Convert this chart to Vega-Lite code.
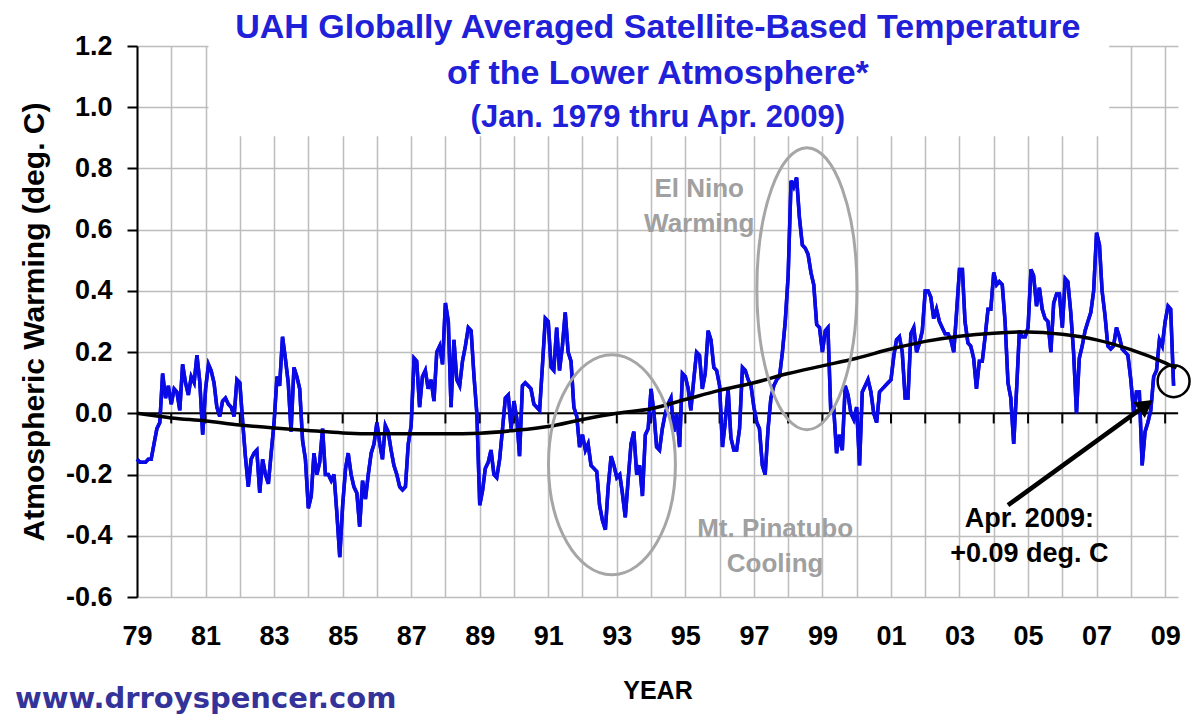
{
  "$schema": "https://vega.github.io/schema/vega-lite/v6.json",
  "width": 1041,
  "height": 551,
  "autosize": {"type": "none"},
  "padding": {"left": 137, "top": 46, "right": 15, "bottom": 122},
  "background": "white",
  "config": {"view": {"stroke": null}, "font": "Liberation Sans"},
  "datasets": {
    "uah": [
      {"d":"1979-01-01","v":-0.15},{"d":"1979-02-01","v":-0.16},{"d":"1979-03-01","v":-0.16},{"d":"1979-04-01","v":-0.16},{"d":"1979-05-01","v":-0.15},{"d":"1979-06-01","v":-0.15},{"d":"1979-07-01","v":-0.10},{"d":"1979-08-01","v":-0.05},{"d":"1979-09-01","v":-0.03},{"d":"1979-10-01","v":0.13},{"d":"1979-11-01","v":0.05},{"d":"1979-12-01","v":0.09},
      {"d":"1980-01-01","v":0.03},{"d":"1980-02-01","v":0.08},{"d":"1980-03-01","v":0.07},{"d":"1980-04-01","v":0.01},{"d":"1980-05-01","v":0.16},{"d":"1980-06-01","v":0.10},{"d":"1980-07-01","v":0.06},{"d":"1980-08-01","v":0.12},{"d":"1980-09-01","v":0.10},{"d":"1980-10-01","v":0.19},{"d":"1980-11-01","v":0.10},{"d":"1980-12-01","v":-0.07},
      {"d":"1981-01-01","v":0.08},{"d":"1981-02-01","v":0.16},{"d":"1981-03-01","v":0.14},{"d":"1981-04-01","v":0.10},{"d":"1981-05-01","v":0.02},{"d":"1981-06-01","v":-0.01},{"d":"1981-07-01","v":0.04},{"d":"1981-08-01","v":0.05},{"d":"1981-09-01","v":0.03},{"d":"1981-10-01","v":0.02},{"d":"1981-11-01","v":-0.01},{"d":"1981-12-01","v":0.11},
      {"d":"1982-01-01","v":0.10},{"d":"1982-02-01","v":-0.03},{"d":"1982-03-01","v":-0.14},{"d":"1982-04-01","v":-0.24},{"d":"1982-05-01","v":-0.15},{"d":"1982-06-01","v":-0.13},{"d":"1982-07-01","v":-0.12},{"d":"1982-08-01","v":-0.26},{"d":"1982-09-01","v":-0.15},{"d":"1982-10-01","v":-0.20},{"d":"1982-11-01","v":-0.23},{"d":"1982-12-01","v":-0.13},
      {"d":"1983-01-01","v":-0.03},{"d":"1983-02-01","v":0.12},{"d":"1983-03-01","v":0.09},{"d":"1983-04-01","v":0.25},{"d":"1983-05-01","v":0.18},{"d":"1983-06-01","v":0.10},{"d":"1983-07-01","v":-0.06},{"d":"1983-08-01","v":0.15},{"d":"1983-09-01","v":0.12},{"d":"1983-10-01","v":0.08},{"d":"1983-11-01","v":-0.09},{"d":"1983-12-01","v":-0.15},
      {"d":"1984-01-01","v":-0.31},{"d":"1984-02-01","v":-0.27},{"d":"1984-03-01","v":-0.13},{"d":"1984-04-01","v":-0.20},{"d":"1984-05-01","v":-0.16},{"d":"1984-06-01","v":-0.05},{"d":"1984-07-01","v":-0.20},{"d":"1984-08-01","v":-0.20},{"d":"1984-09-01","v":-0.22},{"d":"1984-10-01","v":-0.20},{"d":"1984-11-01","v":-0.33},{"d":"1984-12-01","v":-0.47},
      {"d":"1985-01-01","v":-0.30},{"d":"1985-02-01","v":-0.18},{"d":"1985-03-01","v":-0.13},{"d":"1985-04-01","v":-0.20},{"d":"1985-05-01","v":-0.24},{"d":"1985-06-01","v":-0.26},{"d":"1985-07-01","v":-0.37},{"d":"1985-08-01","v":-0.22},{"d":"1985-09-01","v":-0.28},{"d":"1985-10-01","v":-0.20},{"d":"1985-11-01","v":-0.13},{"d":"1985-12-01","v":-0.10},
      {"d":"1986-01-01","v":-0.03},{"d":"1986-02-01","v":-0.10},{"d":"1986-03-01","v":-0.15},{"d":"1986-04-01","v":-0.04},{"d":"1986-05-01","v":-0.06},{"d":"1986-06-01","v":-0.12},{"d":"1986-07-01","v":-0.17},{"d":"1986-08-01","v":-0.20},{"d":"1986-09-01","v":-0.24},{"d":"1986-10-01","v":-0.25},{"d":"1986-11-01","v":-0.24},{"d":"1986-12-01","v":-0.10},
      {"d":"1987-01-01","v":-0.04},{"d":"1987-02-01","v":0.18},{"d":"1987-03-01","v":0.17},{"d":"1987-04-01","v":0.02},{"d":"1987-05-01","v":0.12},{"d":"1987-06-01","v":0.14},{"d":"1987-07-01","v":0.08},{"d":"1987-08-01","v":0.11},{"d":"1987-09-01","v":0.04},{"d":"1987-10-01","v":0.20},{"d":"1987-11-01","v":0.22},{"d":"1987-12-01","v":0.16},
      {"d":"1988-01-01","v":0.36},{"d":"1988-02-01","v":0.30},{"d":"1988-03-01","v":0.02},{"d":"1988-04-01","v":0.24},{"d":"1988-05-01","v":0.11},{"d":"1988-06-01","v":0.09},{"d":"1988-07-01","v":0.17},{"d":"1988-08-01","v":0.22},{"d":"1988-09-01","v":0.28},{"d":"1988-10-01","v":0.27},{"d":"1988-11-01","v":0.12},{"d":"1988-12-01","v":0.00},
      {"d":"1989-01-01","v":-0.30},{"d":"1989-02-01","v":-0.25},{"d":"1989-03-01","v":-0.18},{"d":"1989-04-01","v":-0.16},{"d":"1989-05-01","v":-0.12},{"d":"1989-06-01","v":-0.20},{"d":"1989-07-01","v":-0.21},{"d":"1989-08-01","v":-0.15},{"d":"1989-09-01","v":-0.05},{"d":"1989-10-01","v":0.05},{"d":"1989-11-01","v":0.06},{"d":"1989-12-01","v":-0.05},
      {"d":"1990-01-01","v":0.04},{"d":"1990-02-01","v":-0.02},{"d":"1990-03-01","v":-0.14},{"d":"1990-04-01","v":0.09},{"d":"1990-05-01","v":0.10},{"d":"1990-06-01","v":0.09},{"d":"1990-07-01","v":0.08},{"d":"1990-08-01","v":0.03},{"d":"1990-09-01","v":0.02},{"d":"1990-10-01","v":0.01},{"d":"1990-11-01","v":0.16},{"d":"1990-12-01","v":0.31},
      {"d":"1991-01-01","v":0.30},{"d":"1991-02-01","v":0.15},{"d":"1991-03-01","v":0.14},{"d":"1991-04-01","v":0.28},{"d":"1991-05-01","v":0.14},{"d":"1991-06-01","v":0.22},{"d":"1991-07-01","v":0.33},{"d":"1991-08-01","v":0.20},{"d":"1991-09-01","v":0.17},{"d":"1991-10-01","v":0.02},{"d":"1991-11-01","v":-0.01},{"d":"1991-12-01","v":-0.11},
      {"d":"1992-01-01","v":-0.07},{"d":"1992-02-01","v":-0.12},{"d":"1992-03-01","v":-0.10},{"d":"1992-04-01","v":-0.17},{"d":"1992-05-01","v":-0.18},{"d":"1992-06-01","v":-0.19},{"d":"1992-07-01","v":-0.30},{"d":"1992-08-01","v":-0.35},{"d":"1992-09-01","v":-0.38},{"d":"1992-10-01","v":-0.24},{"d":"1992-11-01","v":-0.14},{"d":"1992-12-01","v":-0.17},
      {"d":"1993-01-01","v":-0.21},{"d":"1993-02-01","v":-0.20},{"d":"1993-03-01","v":-0.26},{"d":"1993-04-01","v":-0.34},{"d":"1993-05-01","v":-0.22},{"d":"1993-06-01","v":-0.10},{"d":"1993-07-01","v":-0.06},{"d":"1993-08-01","v":-0.20},{"d":"1993-09-01","v":-0.17},{"d":"1993-10-01","v":-0.27},{"d":"1993-11-01","v":-0.07},{"d":"1993-12-01","v":-0.05},
      {"d":"1994-01-01","v":0.08},{"d":"1994-02-01","v":0.00},{"d":"1994-03-01","v":-0.11},{"d":"1994-04-01","v":-0.12},{"d":"1994-05-01","v":-0.05},{"d":"1994-06-01","v":0.00},{"d":"1994-07-01","v":0.03},{"d":"1994-08-01","v":0.05},{"d":"1994-09-01","v":-0.06},{"d":"1994-10-01","v":0.00},{"d":"1994-11-01","v":-0.11},{"d":"1994-12-01","v":0.13},
      {"d":"1995-01-01","v":0.12},{"d":"1995-02-01","v":0.08},{"d":"1995-03-01","v":0.01},{"d":"1995-04-01","v":0.11},{"d":"1995-05-01","v":0.20},{"d":"1995-06-01","v":0.19},{"d":"1995-07-01","v":0.08},{"d":"1995-08-01","v":0.13},{"d":"1995-09-01","v":0.27},{"d":"1995-10-01","v":0.24},{"d":"1995-11-01","v":0.15},{"d":"1995-12-01","v":0.14},
      {"d":"1996-01-01","v":0.09},{"d":"1996-02-01","v":-0.11},{"d":"1996-03-01","v":-0.03},{"d":"1996-04-01","v":0.08},{"d":"1996-05-01","v":-0.08},{"d":"1996-06-01","v":-0.12},{"d":"1996-07-01","v":-0.12},{"d":"1996-08-01","v":-0.05},{"d":"1996-09-01","v":0.15},{"d":"1996-10-01","v":0.14},{"d":"1996-11-01","v":0.11},{"d":"1996-12-01","v":0.09},
      {"d":"1997-01-01","v":0.02},{"d":"1997-02-01","v":-0.03},{"d":"1997-03-01","v":-0.05},{"d":"1997-04-01","v":-0.17},{"d":"1997-05-01","v":-0.20},{"d":"1997-06-01","v":-0.05},{"d":"1997-07-01","v":0.05},{"d":"1997-08-01","v":0.09},{"d":"1997-09-01","v":0.11},{"d":"1997-10-01","v":0.12},{"d":"1997-11-01","v":0.20},{"d":"1997-12-01","v":0.30},
      {"d":"1998-01-01","v":0.45},{"d":"1998-02-01","v":0.76},{"d":"1998-03-01","v":0.74},{"d":"1998-04-01","v":0.77},{"d":"1998-05-01","v":0.64},{"d":"1998-06-01","v":0.55},{"d":"1998-07-01","v":0.54},{"d":"1998-08-01","v":0.52},{"d":"1998-09-01","v":0.46},{"d":"1998-10-01","v":0.42},{"d":"1998-11-01","v":0.29},{"d":"1998-12-01","v":0.28},
      {"d":"1999-01-01","v":0.20},{"d":"1999-02-01","v":0.27},{"d":"1999-03-01","v":0.28},{"d":"1999-04-01","v":0.00},{"d":"1999-05-01","v":0.02},{"d":"1999-06-01","v":-0.13},{"d":"1999-07-01","v":-0.07},{"d":"1999-08-01","v":-0.12},{"d":"1999-09-01","v":0.09},{"d":"1999-10-01","v":0.06},{"d":"1999-11-01","v":0.00},{"d":"1999-12-01","v":-0.02},
      {"d":"2000-01-01","v":0.02},{"d":"2000-02-01","v":-0.17},{"d":"2000-03-01","v":0.07},{"d":"2000-04-01","v":0.09},{"d":"2000-05-01","v":0.11},{"d":"2000-06-01","v":0.07},{"d":"2000-07-01","v":0.00},{"d":"2000-08-01","v":-0.03},{"d":"2000-09-01","v":0.07},{"d":"2000-10-01","v":0.08},{"d":"2000-11-01","v":0.09},{"d":"2000-12-01","v":0.10},
      {"d":"2001-01-01","v":0.11},{"d":"2001-02-01","v":0.19},{"d":"2001-03-01","v":0.24},{"d":"2001-04-01","v":0.25},{"d":"2001-05-01","v":0.20},{"d":"2001-06-01","v":0.05},{"d":"2001-07-01","v":0.05},{"d":"2001-08-01","v":0.26},{"d":"2001-09-01","v":0.28},{"d":"2001-10-01","v":0.20},{"d":"2001-11-01","v":0.23},{"d":"2001-12-01","v":0.27},
      {"d":"2002-01-01","v":0.40},{"d":"2002-02-01","v":0.40},{"d":"2002-03-01","v":0.38},{"d":"2002-04-01","v":0.31},{"d":"2002-05-01","v":0.34},{"d":"2002-06-01","v":0.30},{"d":"2002-07-01","v":0.28},{"d":"2002-08-01","v":0.26},{"d":"2002-09-01","v":0.26},{"d":"2002-10-01","v":0.24},{"d":"2002-11-01","v":0.20},{"d":"2002-12-01","v":0.33},
      {"d":"2003-01-01","v":0.47},{"d":"2003-02-01","v":0.47},{"d":"2003-03-01","v":0.30},{"d":"2003-04-01","v":0.23},{"d":"2003-05-01","v":0.22},{"d":"2003-06-01","v":0.18},{"d":"2003-07-01","v":0.08},{"d":"2003-08-01","v":0.17},{"d":"2003-09-01","v":0.17},{"d":"2003-10-01","v":0.25},{"d":"2003-11-01","v":0.34},{"d":"2003-12-01","v":0.34},
      {"d":"2004-01-01","v":0.46},{"d":"2004-02-01","v":0.42},{"d":"2004-03-01","v":0.43},{"d":"2004-04-01","v":0.42},{"d":"2004-05-01","v":0.30},{"d":"2004-06-01","v":0.10},{"d":"2004-07-01","v":0.05},{"d":"2004-08-01","v":-0.10},{"d":"2004-09-01","v":0.08},{"d":"2004-10-01","v":0.27},{"d":"2004-11-01","v":0.25},{"d":"2004-12-01","v":0.25},
      {"d":"2005-01-01","v":0.28},{"d":"2005-02-01","v":0.47},{"d":"2005-03-01","v":0.45},{"d":"2005-04-01","v":0.35},{"d":"2005-05-01","v":0.41},{"d":"2005-06-01","v":0.34},{"d":"2005-07-01","v":0.31},{"d":"2005-08-01","v":0.30},{"d":"2005-09-01","v":0.20},{"d":"2005-10-01","v":0.36},{"d":"2005-11-01","v":0.39},{"d":"2005-12-01","v":0.39},
      {"d":"2006-01-01","v":0.28},{"d":"2006-02-01","v":0.44},{"d":"2006-03-01","v":0.43},{"d":"2006-04-01","v":0.33},{"d":"2006-05-01","v":0.20},{"d":"2006-06-01","v":0.00},{"d":"2006-07-01","v":0.18},{"d":"2006-08-01","v":0.22},{"d":"2006-09-01","v":0.27},{"d":"2006-10-01","v":0.30},{"d":"2006-11-01","v":0.33},{"d":"2006-12-01","v":0.40},
      {"d":"2007-01-01","v":0.59},{"d":"2007-02-01","v":0.55},{"d":"2007-03-01","v":0.40},{"d":"2007-04-01","v":0.32},{"d":"2007-05-01","v":0.22},{"d":"2007-06-01","v":0.21},{"d":"2007-07-01","v":0.22},{"d":"2007-08-01","v":0.28},{"d":"2007-09-01","v":0.25},{"d":"2007-10-01","v":0.21},{"d":"2007-11-01","v":0.20},{"d":"2007-12-01","v":0.19},
      {"d":"2008-01-01","v":0.11},{"d":"2008-02-01","v":0.00},{"d":"2008-03-01","v":0.07},{"d":"2008-04-01","v":0.07},{"d":"2008-05-01","v":-0.17},{"d":"2008-06-01","v":-0.06},{"d":"2008-07-01","v":-0.03},{"d":"2008-08-01","v":0.01},{"d":"2008-09-01","v":0.12},{"d":"2008-10-01","v":0.14},{"d":"2008-11-01","v":0.24},{"d":"2008-12-01","v":0.22},
      {"d":"2009-01-01","v":0.30},{"d":"2009-02-01","v":0.35},{"d":"2009-03-01","v":0.34},{"d":"2009-04-01","v":0.09}
    ],
    "trend": [
      {"d":"1979-01-01","v":0.0},{"d":"1980-01-01","v":-0.015},{"d":"1981-01-01","v":-0.025},{"d":"1982-01-01","v":-0.038},{"d":"1983-01-01","v":-0.048},{"d":"1984-01-01","v":-0.056},{"d":"1985-01-01","v":-0.064},{"d":"1986-01-01","v":-0.067},{"d":"1987-01-01","v":-0.067},{"d":"1988-01-01","v":-0.067},{"d":"1989-01-01","v":-0.065},{"d":"1990-01-01","v":-0.056},{"d":"1991-01-01","v":-0.043},{"d":"1992-01-01","v":-0.02},{"d":"1993-01-01","v":0.0},{"d":"1994-01-01","v":0.015},{"d":"1995-01-01","v":0.045},{"d":"1996-01-01","v":0.075},{"d":"1997-01-01","v":0.1},{"d":"1998-01-01","v":0.13},{"d":"1999-01-01","v":0.155},{"d":"2000-01-01","v":0.18},{"d":"2001-01-01","v":0.21},{"d":"2002-01-01","v":0.235},{"d":"2003-01-01","v":0.252},{"d":"2004-01-01","v":0.262},{"d":"2005-01-01","v":0.266},{"d":"2006-01-01","v":0.258},{"d":"2007-01-01","v":0.24},{"d":"2008-01-01","v":0.208},{"d":"2009-01-01","v":0.165},{"d":"2009-05-01","v":0.148}
    ],
    "yearticks": [
      {"d":"1980-01-01"},{"d":"1981-01-01"},{"d":"1982-01-01"},{"d":"1983-01-01"},{"d":"1984-01-01"},{"d":"1985-01-01"},{"d":"1986-01-01"},{"d":"1987-01-01"},{"d":"1988-01-01"},{"d":"1989-01-01"},{"d":"1990-01-01"},{"d":"1991-01-01"},{"d":"1992-01-01"},{"d":"1993-01-01"},{"d":"1994-01-01"},{"d":"1995-01-01"},{"d":"1996-01-01"},{"d":"1997-01-01"},{"d":"1998-01-01"},{"d":"1999-01-01"},{"d":"2000-01-01"},{"d":"2001-01-01"},{"d":"2002-01-01"},{"d":"2003-01-01"},{"d":"2004-01-01"},{"d":"2005-01-01"},{"d":"2006-01-01"},{"d":"2007-01-01"},{"d":"2008-01-01"},{"d":"2009-01-01"}
    ]
  },
  "layer": [
    {
      "data": {"name": "uah"},
      "mark": {"type": "line", "color": "#0A0AE6", "strokeWidth": 3.5, "strokeJoin": "miter"},
      "encoding": {
        "x": {
          "field": "d", "type": "temporal", "title": "YEAR",
          "scale": {"type": "utc", "domain": [{"year": 1979, "month": 1, "date": 1, "utc": true}, {"year": 2009, "month": 5, "date": 18, "utc": true}], "nice": false},
          "axis": {
            "orient": "bottom",
            "tickCount": {"interval": "year", "step": 1},
            "labelExpr": "utcyear(datum.value) % 2 == 1 ? utcFormat(datum.value, '%y') : ''",
            "labelOverlap": false, "labelFlush": false,
            "domain": false, "ticks": false,
            "grid": true, "gridColor": "#BDBDBD", "gridWidth": 1.5,
            "labelPadding": 26, "labelFont": "Liberation Sans", "labelFontSize": 27, "labelFontWeight": "bold", "labelColor": "black",
            "titleFont": "Liberation Sans", "titleFontSize": 25, "titleFontWeight": "bold", "titleColor": "black", "titlePadding": 29
          }
        },
        "y": {
          "field": "v", "type": "quantitative", "title": "Atmospheric Warming (deg. C)",
          "scale": {"domain": [-0.6, 1.2], "nice": false, "zero": false},
          "axis": {
            "values": [-0.6, -0.4, -0.2, 0, 0.2, 0.4, 0.6, 0.8, 1.0, 1.2],
            "labelExpr": "replace(format(datum.value, '.1f'), '\u2212', '-')",
            "grid": true, "gridColor": "#BDBDBD", "gridWidth": 1.5,
            "domain": true, "domainColor": "black", "domainWidth": 2,
            "ticks": true, "tickColor": "black", "tickSize": 10, "tickWidth": 2,
            "labelPadding": 15, "labelFlush": false, "labelFont": "Liberation Sans", "labelFontSize": 27, "labelFontWeight": "bold", "labelColor": "black",
            "titleFont": "Liberation Sans", "titleFontSize": 30, "titleFontWeight": "bold", "titleColor": "black", "titlePadding": 16
          }
        }
      }
    },
    {
      "data": {"values": [{}]},
      "mark": {"type": "rect", "fill": "white"},
      "encoding": {
        "x": {"datum": {"year": 1981, "month": 2, "date": 1, "utc": true}, "type": "temporal"},
        "x2": {"datum": {"year": 2007, "month": 5, "date": 15, "utc": true}},
        "y": {"datum": 0.905, "type": "quantitative"},
        "y2": {"datum": 1.4}
      }
    },
    {
      "data": {"values": [{}]},
      "mark": {"type": "rule", "color": "black", "strokeWidth": 2},
      "encoding": {"y": {"datum": 0, "type": "quantitative"}}
    },
    {
      "data": {"name": "yearticks"},
      "mark": {"type": "rule", "color": "black", "strokeWidth": 2},
      "encoding": {
        "x": {"field": "d", "type": "temporal", "title": "YEAR"},
        "y": {"datum": 0, "type": "quantitative"},
        "y2": {"datum": -0.033}
      }
    },
    {
      "data": {"name": "uah"},
      "mark": {"type": "line", "color": "#0A0AE6", "strokeWidth": 3.5, "strokeJoin": "miter"},
      "encoding": {
        "x": {"field": "d", "type": "temporal", "title": "YEAR"},
        "y": {"field": "v", "type": "quantitative", "title": "Atmospheric Warming (deg. C)"}
      }
    },
    {
      "data": {"name": "trend"},
      "mark": {"type": "line", "color": "black", "strokeWidth": 3.5, "interpolate": "monotone"},
      "encoding": {
        "x": {"field": "d", "type": "temporal", "title": "YEAR"},
        "y": {"field": "v", "type": "quantitative", "title": "Atmospheric Warming (deg. C)"}
      }
    },
    {
      "data": {"values": [{}]},
      "mark": {"type": "point", "shape": "M0.577,0C0.577,0.552,0.319,1,0,1C-0.319,1,-0.577,0.552,-0.577,0C-0.577,-0.552,-0.319,-1,0,-1C0.319,-1,0.577,-0.552,0.577,0Z", "size": 48400, "filled": false, "stroke": "#A6A6A6", "strokeWidth": 3, "opacity": 1},
      "encoding": {
        "x": {"datum": {"year": 1992, "month": 11, "date": 10, "utc": true}, "type": "temporal"},
        "y": {"datum": -0.168, "type": "quantitative"}
      }
    },
    {
      "data": {"values": [{}]},
      "mark": {"type": "point", "shape": "M0.355,0C0.355,0.552,0.196,1,0,1C-0.196,1,-0.355,0.552,-0.355,0C-0.355,-0.552,-0.196,-1,0,-1C0.196,-1,0.355,-0.552,0.355,0Z", "size": 79524, "filled": false, "stroke": "#A6A6A6", "strokeWidth": 3, "opacity": 1},
      "encoding": {
        "x": {"datum": {"year": 1998, "month": 7, "date": 20, "utc": true}, "type": "temporal"},
        "y": {"datum": 0.407, "type": "quantitative"}
      }
    },
    {
      "data": {"values": [{}]},
      "mark": {"type": "point", "shape": "circle", "size": 1018, "filled": false, "stroke": "black", "strokeWidth": 2.5, "opacity": 1},
      "encoding": {
        "x": {"datum": {"year": 2009, "month": 4, "date": 1, "utc": true}, "type": "temporal"},
        "y": {"datum": 0.105, "type": "quantitative"}
      }
    },
    {
      "data": {"values": [{}]},
      "mark": {"type": "rule", "color": "black", "strokeWidth": 4.5},
      "encoding": {
        "x": {"datum": {"year": 2004, "month": 6, "date": 1, "utc": true}, "type": "temporal"},
        "y": {"datum": -0.30, "type": "quantitative"},
        "x2": {"datum": {"year": 2008, "month": 6, "date": 10, "utc": true}},
        "y2": {"datum": 0.027}
      }
    },
    {
      "data": {"values": [{}]},
      "mark": {"type": "point", "shape": "triangle-up", "angle": 54, "size": 380, "filled": true, "color": "black", "opacity": 1},
      "encoding": {
        "x": {"datum": {"year": 2008, "month": 6, "date": 10, "utc": true}, "type": "temporal"},
        "y": {"datum": 0.027, "type": "quantitative"}
      }
    },
    {
      "data": {"values": [{"t": "El Nino\nWarming"}]},
      "mark": {"type": "text", "lineBreak": "\n", "lineHeight": 35, "align": "center", "baseline": "alphabetic", "font": "Liberation Sans", "fontSize": 26, "fontWeight": "bold", "color": "#A0A0A0"},
      "encoding": {
        "x": {"datum": {"year": 1995, "month": 5, "date": 29, "utc": true}, "type": "temporal"},
        "y": {"datum": 0.707, "type": "quantitative"},
        "text": {"field": "t"}
      }
    },
    {
      "data": {"values": [{"t": "Mt. Pinatubo\nCooling"}]},
      "mark": {"type": "text", "lineBreak": "\n", "lineHeight": 35, "align": "center", "baseline": "alphabetic", "font": "Liberation Sans", "fontSize": 26, "fontWeight": "bold", "color": "#A0A0A0"},
      "encoding": {
        "x": {"datum": {"year": 1997, "month": 8, "date": 15, "utc": true}, "type": "temporal"},
        "y": {"datum": -0.403, "type": "quantitative"},
        "text": {"field": "t"}
      }
    },
    {
      "data": {"values": [{"t": "Apr. 2009:\n+0.09 deg. C"}]},
      "mark": {"type": "text", "lineBreak": "\n", "lineHeight": 35, "align": "center", "baseline": "alphabetic", "font": "Liberation Sans", "fontSize": 27, "fontWeight": "bold", "color": "black"},
      "encoding": {
        "x": {"datum": {"year": 2005, "month": 1, "date": 15, "utc": true}, "type": "temporal"},
        "y": {"datum": -0.371, "type": "quantitative"},
        "text": {"field": "t"}
      }
    },
    {
      "data": {"values": [{"t": "UAH Globally Averaged Satellite-Based Temperature"}]},
      "mark": {"type": "text", "align": "center", "baseline": "alphabetic", "font": "Liberation Sans", "fontSize": 34, "fontWeight": "bold", "color": "#2020D8"},
      "encoding": {
        "x": {"datum": {"year": 1994, "month": 3, "date": 14, "utc": true}, "type": "temporal"},
        "y": {"datum": 1.226, "type": "quantitative"},
        "text": {"field": "t"}
      }
    },
    {
      "data": {"values": [{"t": "of the Lower Atmosphere*"}]},
      "mark": {"type": "text", "align": "center", "baseline": "alphabetic", "font": "Liberation Sans", "fontSize": 34, "fontWeight": "bold", "color": "#2020D8"},
      "encoding": {
        "x": {"datum": {"year": 1994, "month": 3, "date": 14, "utc": true}, "type": "temporal"},
        "y": {"datum": 1.076, "type": "quantitative"},
        "text": {"field": "t"}
      }
    },
    {
      "data": {"values": [{"t": "(Jan. 1979 thru Apr. 2009)"}]},
      "mark": {"type": "text", "align": "center", "baseline": "alphabetic", "font": "Liberation Sans", "fontSize": 31, "fontWeight": "bold", "color": "#2020D8"},
      "encoding": {
        "x": {"datum": {"year": 1994, "month": 3, "date": 14, "utc": true}, "type": "temporal"},
        "y": {"datum": 0.9355, "type": "quantitative"},
        "text": {"field": "t"}
      }
    },
    {
      "data": {"values": [{"t": "www.drroyspencer.com"}]},
      "mark": {"type": "text", "align": "left", "baseline": "alphabetic", "font": "DejaVu Sans", "fontSize": 29, "fontWeight": "bold", "color": "#333399"},
      "encoding": {
        "x": {"datum": {"year": 1975, "month": 6, "date": 10, "utc": true}, "type": "temporal"},
        "y": {"datum": -0.962, "type": "quantitative"},
        "text": {"field": "t"}
      }
    }
  ]
}
